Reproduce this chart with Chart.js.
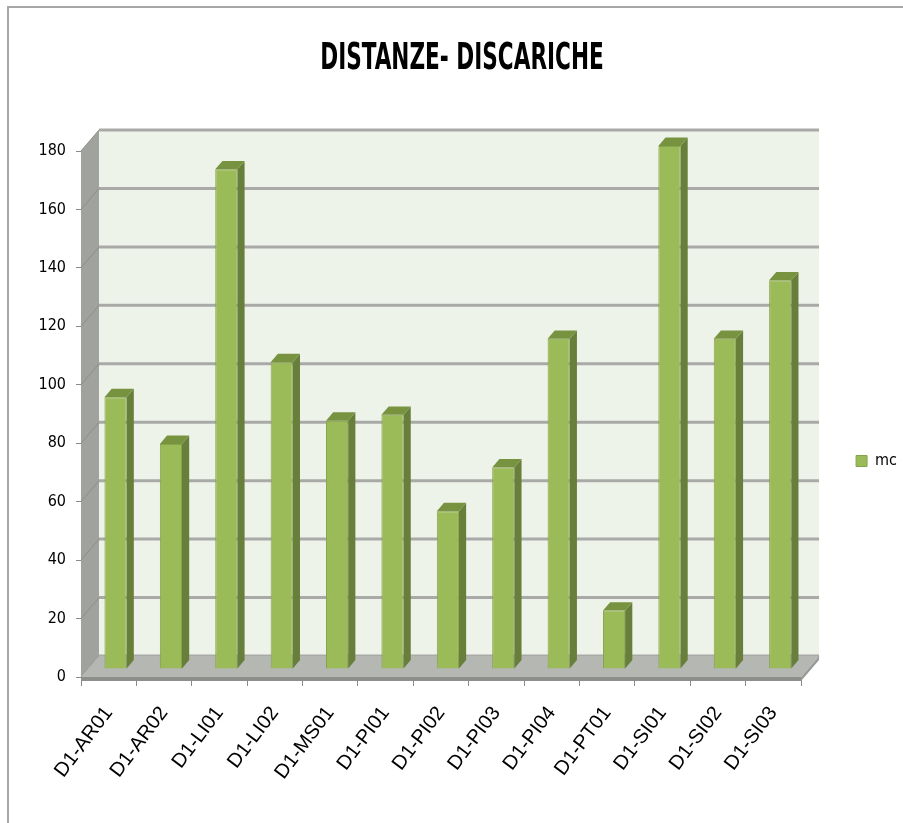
<!DOCTYPE html>
<html>
<head>
<meta charset="utf-8">
<script src="https://cdn.jsdelivr.net/npm/chart.js@4.4.1/dist/chart.umd.min.js"></script>
<style>
  html, body { margin: 0; padding: 0; background: #fff; }
  #wrap { position: relative; width: 903px; height: 823px; }
</style>
</head>
<body>
<div id="wrap"><canvas id="chart"></canvas></div>
<script>
const chartTitle = 'DISTANZE- DISCARICHE';
const seriesLabel = 'mc';
const categories = ['D1-AR01', 'D1-AR02', 'D1-LI01', 'D1-LI02', 'D1-MS01', 'D1-PI01', 'D1-PI02',
                    'D1-PI03', 'D1-PI04', 'D1-PT01', 'D1-SI01', 'D1-SI02', 'D1-SI03'];
const mcValues = [93, 77, 171, 105, 85, 87, 54, 69, 113, 20, 179, 113, 133];
const yMin = 0;
const yMax = 180;
const yStep = 20;

// fake 3d look (excel style)
const DX = 18, DY = -21;      // depth of walls / floor
const BAR_SHIFT = 0.38;       // bars sit this far back in the box
const BAR_DEPTH = 0.4;        // thickness of the bars
const TITLE_SIZE = 24, TITLE_PAD_TOP = 44.6, TITLE_STRETCH = 1.55;
const LEGEND_DROP = 47;

const narrow = "'Liberation Sans Narrow', 'Arial Narrow', 'DejaVu Sans Condensed', 'Liberation Sans', sans-serif";

const poly = function(ctx, pts, fill) {
  ctx.beginPath();
  ctx.moveTo(pts[0][0], pts[0][1]);
  for (let i = 1; i < pts.length; i++) ctx.lineTo(pts[i][0], pts[i][1]);
  ctx.closePath();
  ctx.fillStyle = fill;
  ctx.fill();
};

const threeD = {
  id: 'threeD',
  afterLayout(chart) {
    const tb = chart.titleBlock;
    if (tb && !tb._stretched) {
      tb._stretched = true;
      const draw = tb.draw.bind(tb);
      tb.draw = function() {
        const c = this.ctx;
        const cy = this.top + TITLE_PAD_TOP + TITLE_SIZE * 1.2 / 2;
        c.save();
        c.translate(0, cy);
        c.scale(1, TITLE_STRETCH);
        c.translate(0, -cy);
        draw();
        c.restore();
      };
    }
    chart.legend.top += LEGEND_DROP;
    chart.legend.bottom += LEGEND_DROP;
  },
  beforeDraw(chart) {
    const ctx = chart.ctx;
    ctx.save();
    ctx.strokeStyle = '#a6a6a6';
    ctx.lineWidth = 2;
    ctx.strokeRect(8, 7, 1200, 1200);
    ctx.restore();
  },
  beforeDatasetsDraw(chart) {
    const { ctx, chartArea: a, scales: { y } } = chart;
    const top = y.getPixelForValue(yMax);
    const bot = a.bottom;
    ctx.save();
    // back wall
    ctx.fillStyle = '#eef3ea';
    ctx.fillRect(a.left + DX, top + DY, a.right - a.left, bot - top);
    // left wall
    poly(ctx, [[a.left, top], [a.left + DX, top + DY], [a.left + DX, bot + DY], [a.left, bot]], '#a0a29e');
    // gridlines on back wall + left wall
    y.ticks.forEach(t => {
      const py = y.getPixelForValue(t.value);
      ctx.strokeStyle = '#a9aaa7';
      ctx.lineWidth = 3;
      ctx.beginPath();
      ctx.moveTo(a.left + DX, py + DY);
      ctx.lineTo(a.right + DX, py + DY);
      ctx.stroke();
      ctx.strokeStyle = '#8c8e8a';
      ctx.lineWidth = 1;
      ctx.beginPath();
      ctx.moveTo(a.left, py);
      ctx.lineTo(a.left + DX, py + DY);
      ctx.stroke();
    });
    // floor + its front edge
    poly(ctx, [[a.left, bot], [a.left + DX, bot + DY], [a.right + DX, bot + DY], [a.right, bot]], '#b5b7b3');
    ctx.fillStyle = '#8e8f8c';
    ctx.fillRect(a.left, bot, a.right - a.left, 4);
    poly(ctx, [[a.right, bot], [a.right + DX, bot + DY], [a.right + DX, bot + DY + 4], [a.right, bot + 4]], '#9a9b98');
    ctx.restore();
  },
  beforeDatasetDraw(chart) {
    chart.ctx.save();
    chart.ctx.translate(DX * BAR_SHIFT, DY * BAR_SHIFT);
  },
  afterDatasetDraw(chart, args) {
    const ctx = chart.ctx;
    const ox = DX * BAR_DEPTH, oy = DY * BAR_DEPTH;
    args.meta.data.forEach(bar => {
      const { x, y, width, base } = bar.getProps(['x', 'y', 'width', 'base'], true);
      const l = x - width / 2, r = x + width / 2;
      poly(ctx, [[r, y], [r + ox, y + oy], [r + ox, base + oy], [r, base]], '#677f3a');
      poly(ctx, [[l, y], [l + ox, y + oy], [r + ox, y + oy], [r, y]], '#77933f');
    });
    ctx.restore();
  }
};

const ctx = document.getElementById('chart').getContext('2d');
const chart = new Chart(ctx, {
  type: 'bar',
  data: {
    labels: categories,
    datasets: [{
      label: seriesLabel,
      data: mcValues,
      backgroundColor: '#9bbb59',
      borderColor: '#86a44b',
      borderWidth: 1,
      barPercentage: 0.4,
      categoryPercentage: 1.0
    }]
  },
  options: {
    responsive: true,
    maintainAspectRatio: false,
    animation: false,
    layout: { padding: { left: 17, right: -4, top: 0, bottom: 0 } },
    plugins: {
      title: {
        display: true,
        text: chartTitle,
        color: '#000',
        font: { family: narrow, size: TITLE_SIZE, weight: 'bold' },
        padding: { top: TITLE_PAD_TOP, bottom: 77.6 }
      },
      legend: {
        position: 'right',
        fullSize: false,
        labels: {
          color: '#000',
          font: { family: narrow, size: 16 },
          boxWidth: 11,
          boxHeight: 11,
          padding: 55
        }
      },
      tooltip: { enabled: false }
    },
    scales: {
      x: {
        grid: { display: true, offset: true, drawOnChartArea: false, drawTicks: true, tickLength: 9, color: '#8a8a8a' },
        border: { display: false },
        ticks: {
          autoSkip: false,
          minRotation: 53,
          maxRotation: 53,
          padding: 16,
          color: '#000',
          font: { family: "'Liberation Sans', Arial, sans-serif", size: 20 }
        },
        afterFit: s => { s.height = 146; }
      },
      y: {
        min: yMin,
        max: yMax,
        grid: { display: true, drawOnChartArea: false, drawTicks: true, tickLength: 5, color: '#8a8a8a' },
        border: { display: false },
        ticks: {
          stepSize: yStep,
          padding: 10,
          color: '#000',
          font: { family: narrow, size: 16 }
        },
        afterFit: s => { s.width = 64; }
      }
    }
  },
  plugins: [threeD]
});
</script>
</body>
</html>
